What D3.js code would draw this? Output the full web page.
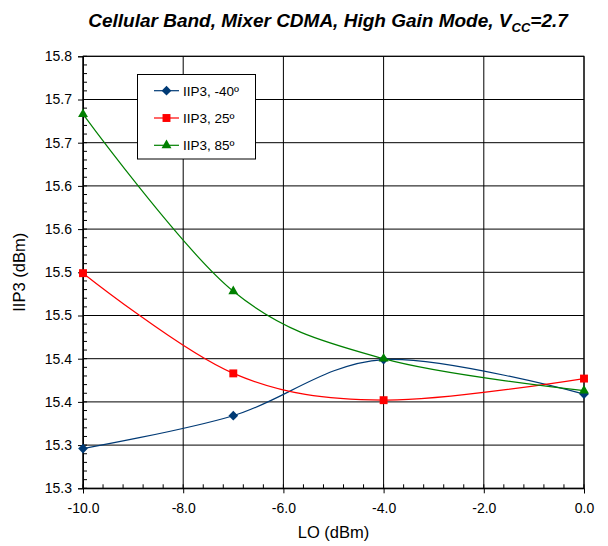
<!DOCTYPE html>
<html><head><meta charset="utf-8">
<script src="https://cdn.jsdelivr.net/npm/d3@7"></script>
<style>body{margin:0;background:#fff;font-family:Arial,"Liberation Sans",sans-serif;}</style>
</head><body>
<svg id="chart" width="608" height="546"></svg>
<script>
const loValues = [-10, -7, -4, 0];
const iip3Minus40 = [15.346, 15.384, 15.449, 15.409];
const iip3Plus25 = [15.549, 15.433, 15.402, 15.427];
const iip3Plus85 = [15.733, 15.528, 15.450, 15.413];
const seriesNames = ["IIP3, -40º", "IIP3, 25º", "IIP3, 85º"];
const yTickValues = [15.30, 15.35, 15.40, 15.45, 15.50, 15.55, 15.60, 15.65, 15.70, 15.75, 15.80];
const yTickLabels = ["15.3","15.3","15.4","15.4","15.5","15.5","15.6","15.6","15.7","15.7","15.8"];
const xTickValues = [-10, -8, -6, -4, -2, 0];
const xTickLabels = ["-10.0", "-8.0", "-6.0", "-4.0", "-2.0", "0.0"];

const series = [
  {name: seriesNames[0], values: iip3Minus40, color: "#003a75", symbol: d3.symbolDiamond2, size: 60},
  {name: seriesNames[1], values: iip3Plus25, color: "#ff0000", symbol: d3.symbolSquare2, size: 80},
  {name: seriesNames[2], values: iip3Plus85, color: "#008000", symbol: d3.symbolTriangle2, size: 70}
];

const svg = d3.select("#chart");
const L = 83, R = 584, T = 56.3, B = 488.3;
const x = d3.scaleLinear().domain([-10, 0]).range([L, R]);
const y = d3.scaleLinear().domain([15.3, 15.8]).range([B, T]);

// title
const title = svg.append("text").attr("x", 328).attr("y", 27).attr("text-anchor", "middle")
  .style("font-size", "19px").style("font-weight", "bold").style("font-style", "italic");
title.append("tspan").text("Cellular Band, Mixer CDMA, High Gain Mode, V");
title.append("tspan").text("CC").attr("dy", 5).style("font-size", "13px");
title.append("tspan").text("=2.7").attr("dy", -5);

// gridlines
const g = svg.append("g");
g.selectAll("line.h").data(yTickValues).join("line")
  .attr("x1", L).attr("x2", R).attr("y1", d => y(d)).attr("y2", d => y(d))
  .attr("stroke", "#000").attr("stroke-width", 1);
g.selectAll("line.v").data(xTickValues).join("line")
  .attr("y1", T).attr("y2", B).attr("x1", d => x(d)).attr("x2", d => x(d))
  .attr("stroke", "#000").attr("stroke-width", 1);
svg.append("rect").attr("x", L).attr("y", T).attr("width", R - L).attr("height", B - T)
  .attr("fill", "none").attr("stroke", "#000");

// axes
const yAxis = d3.axisLeft(y).tickValues(yTickValues).tickSize(5).tickPadding(6)
  .tickFormat((d, i) => yTickLabels[i]);
const gy = svg.append("g").attr("transform", `translate(${L},0)`).call(yAxis);
const xAxis = d3.axisBottom(x).tickValues(xTickValues).tickSize(5).tickPadding(10)
  .tickFormat((d, i) => xTickLabels[i]);
const gx = svg.append("g").attr("transform", `translate(0,${B})`).call(xAxis);
[gy, gx].forEach(a => {
  a.select(".domain").attr("stroke", "#000");
  a.selectAll("text").style("font-size", "14px").style("font-family", "Arial, 'Liberation Sans', sans-serif").attr("fill", "#000");
});
// minor ticks (inside)
const yMinor = d3.range(15.30, 15.8001, 0.01);
svg.append("g").selectAll("line").data(yMinor).join("line")
  .attr("x1", L).attr("x2", L + 4).attr("y1", d => y(d)).attr("y2", d => y(d)).attr("stroke", "#000");
const xMinor = d3.range(-10, 0.0001, 0.4);
svg.append("g").selectAll("line").data(xMinor).join("line")
  .attr("y1", B).attr("y2", B - 4).attr("x1", d => x(d)).attr("x2", d => x(d)).attr("stroke", "#000");

// axis titles
svg.append("text").attr("x", (L + R) / 2).attr("y", 538).attr("text-anchor", "middle")
  .style("font-size", "16.5px").text("LO (dBm)");
svg.append("text").attr("transform", `translate(25,${(T + B) / 2}) rotate(-90)`).attr("text-anchor", "middle")
  .style("font-size", "16.5px").text("IIP3 (dBm)");

// lines
const line = d3.line().x(d => x(d[0])).y(d => y(d[1])).curve(d3.curveCardinal.tension(0));
series.forEach(s => {
  const pts = loValues.map((v, i) => [v, s.values[i]]);
  svg.append("path").datum(pts).attr("d", line).attr("fill", "none")
    .attr("stroke", s.color).attr("stroke-width", 1.2);
  svg.append("g").selectAll("path").data(pts).join("path")
    .attr("transform", d => `translate(${x(d[0])},${y(d[1])})`)
    .attr("d", d3.symbol().type(s.symbol).size(s.size)).attr("fill", s.color);
});

// legend
const lg = svg.append("g");
lg.append("rect").attr("x", 137.5).attr("y", 74.5).attr("width", 118).attr("height", 84.5)
  .attr("fill", "#fff").attr("stroke", "#000");
series.forEach((s, i) => {
  const cy = 90.7 + i * 27.3;
  lg.append("line").attr("x1", 154).attr("x2", 179).attr("y1", cy).attr("y2", cy)
    .attr("stroke", s.color).attr("stroke-width", 1.2);
  lg.append("path").attr("transform", `translate(166.5,${cy})`)
    .attr("d", d3.symbol().type(s.symbol).size(s.size)).attr("fill", s.color);
  lg.append("text").attr("x", 183).attr("y", cy + 5).style("font-size", "13.5px").text(s.name);
});
</script>
</body></html>
